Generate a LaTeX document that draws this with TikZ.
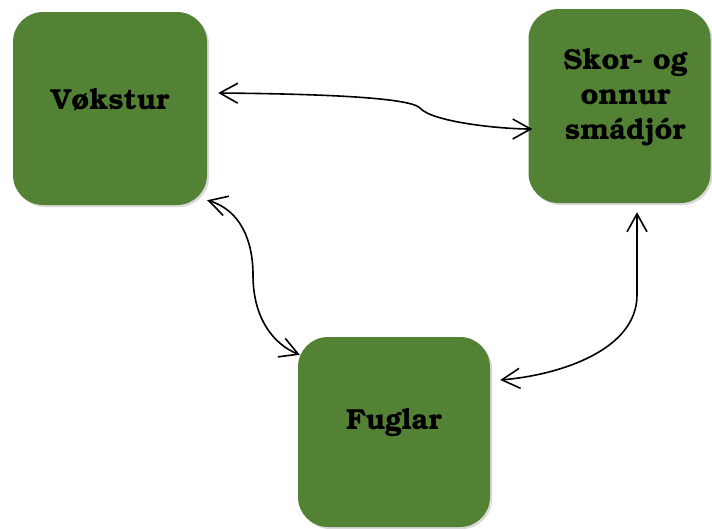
\documentclass[tikz,border=0pt]{standalone}
\usepackage[T1]{fontenc}
\usetikzlibrary{arrows.meta,calc,shadows}
\definecolor{leafgreen}{RGB}{84,130,53}

\begin{document}
\begin{tikzpicture}[x=1pt, y=1pt,
  box/.style 2 args={fill=leafgreen, rounded corners=30pt, inner sep=0pt,
    minimum width=#1, minimum height=#2,
    drop shadow={shadow xshift=2pt, shadow yshift=-2pt, opacity=0.3}},
  boxtext/.style={align=center, font=\fontfamily{pbk}\bfseries\fontsize{29}{35}\selectfont},
  link/.style={line width=1.6pt, {Straight Barb[length=18pt,width=20pt]}-{Straight Barb[length=18pt,width=20pt]}}]

\useasboundingbox (0,0) rectangle (712,-528);

\node[box={194pt}{193pt}] (vokstur) at (110,-108.5) {};
\node[boxtext] (vokstur-txt) at ([yshift=9pt]vokstur.center) {V{\o}kstur};

\node[box={182pt}{194pt}] (smadjor) at (619.5,-106) {};
\node[boxtext] (smadjor-txt) at ([xshift=6pt,yshift=8pt]smadjor.center) {Skor- og\\onnur\\sm\'adj\'or};

\node[box={192pt}{190pt}] (fuglar) at (394,-432) {};
\node[boxtext] (fuglar-txt) at ([yshift=9pt]fuglar.center) {Fuglar};

% vokstur <-> smadjor
\draw[link] ($(vokstur.east)+(11,15.5)$) .. controls (330,-94) and (410,-98) .. (420,-108)
  .. controls (432,-122) and (500,-129) .. ($(smadjor.west)+(4,-23)$);
% vokstur <-> fuglar
\draw[link] ($(vokstur.south east)+(0,5)$) .. controls (240,-210) and (253,-240) .. (253,-275)
  .. controls (253,-320) and (275,-345) .. ($(fuglar.north west)+(2,-18)$);
% smadjor <-> fuglar
\draw[link] ($(smadjor.south)+(17.5,-9)$) -- (637,-295)
  .. controls (637,-350) and (560,-375) .. ($(fuglar.east)+(10,52)$);
\end{tikzpicture}
\end{document}
